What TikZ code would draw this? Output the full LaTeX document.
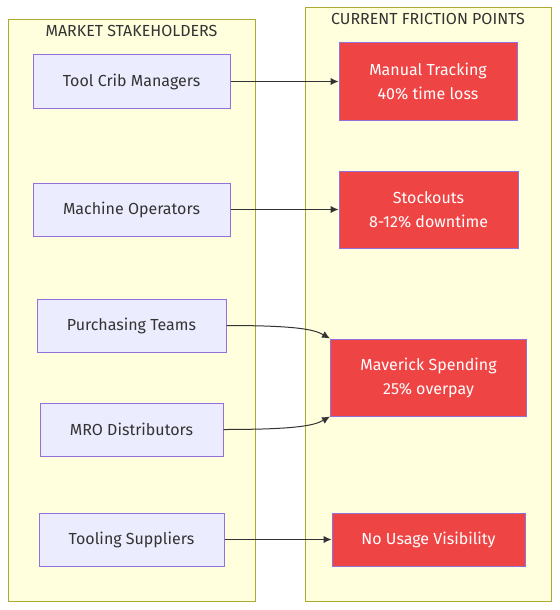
\documentclass[tikz,border=0pt]{standalone}
\usepackage{fontspec}
\setmainfont{Fira Sans}
\usetikzlibrary{arrows.meta}
\definecolor{groupfill}{HTML}{FFFFDE}
\definecolor{groupline}{HTML}{AAAA33}
\definecolor{actorfill}{HTML}{ECECFF}
\definecolor{actorline}{HTML}{9370DB}
\definecolor{painfill}{HTML}{EF4444}
\definecolor{ink}{HTML}{333333}

\begin{document}
\begin{tikzpicture}[x=0.75pt, y=-0.75pt, line width=0.75pt]
        \tikzstyle{every node}=[font=\fontsize{12}{18}\selectfont, text=ink]
        \tikzstyle{group}=[draw=groupline, fill=groupfill]
        \tikzstyle{actor}=[draw=actorline, fill=actorfill, minimum height=39.75pt]
        \tikzstyle{pain}=[draw=actorline, fill=painfill, text=white, align=center, minimum height=57.75pt]
        \tikzstyle{flow}=[draw=ink, -{Latex[length=6pt,width=5.5pt]}]
        \useasboundingbox (0,0) rectangle (560,610);
        \draw[group] (8,20) rectangle (255,601);
        \draw[group] (305,8) rectangle (551.5,601);
        \node (mkt) at (131.5,31) {MARKET STAKEHOLDERS};
        \node (fric) at (428,19) {CURRENT FRICTION POINTS};
        \node [actor, minimum width=147.75pt] (crib) at (131.5,81.5) {Tool Crib Managers};
        \node [actor, minimum width=147.75pt] (ops) at (131.5,209.5) {Machine Operators};
        \node [actor, minimum width=141.75pt] (buy) at (131.5,325.5) {Purchasing Teams};
        \node [actor, minimum width=137.25pt] (mro) at (131.5,429.5) {MRO Distributors};
        \node [actor, minimum width=138.75pt] (sup) at (131.5,539.5) {Tooling Suppliers};
        \node [pain, minimum width=133.5pt] (track) at (428,81.5) {Manual Tracking\\40\% time loss};
        \node [pain, minimum width=134.25pt] (stock) at (428.5,209.5) {Stockouts\\8-12\% downtime};
        \node [pain, minimum width=147pt] (mav) at (428.5,377.5) {Maverick Spending\\25\% overpay};
        \node [pain, minimum width=144.75pt, minimum height=39.75pt] (vis) at (428.5,539.5) {No Usage Visibility};
        \draw[flow] (crib) -- (track);
        \draw[flow] (ops) -- (stock);
        \draw[flow] (buy.east) .. controls (300,325.5) and (315,330) .. (mav.north west);
        \draw[flow] (mro.east) .. controls (300,429.5) and (315,425) .. (mav.south west);
        \draw[flow] (sup) -- (vis);
      \end{tikzpicture}
\end{document}
